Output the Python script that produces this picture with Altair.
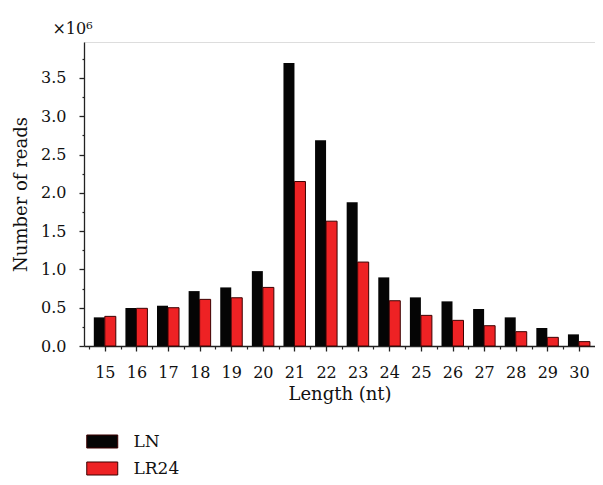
import altair as alt
import pandas as pd

# ---- data (reads in millions) ----
lengths = list(range(15, 31))
ln_reads = [0.374, 0.496, 0.526, 0.717, 0.765, 0.978, 3.696, 2.687,
            1.878, 0.896, 0.635, 0.583, 0.483, 0.374, 0.235, 0.152]
lr24_reads = [0.387, 0.492, 0.500, 0.609, 0.630, 0.765, 2.148, 1.630,
              1.096, 0.591, 0.400, 0.335, 0.265, 0.187, 0.113, 0.057]
series_names = ["LN", "LR24"]
series_colors = ["#050505", "#ee2224"]
x_ticks = lengths
x_minor = [l - 0.5 for l in lengths]
y_ticks = [0.0, 0.5, 1.0, 1.5, 2.0, 2.5, 3.0, 3.5]
y_minor = [0.25, 0.75, 1.25, 1.75, 2.25, 2.75, 3.25, 3.75]

df = pd.DataFrame({
    "length": lengths + lengths,
    "reads": ln_reads + lr24_reads,
    "series": [series_names[0]] * len(lengths) + [series_names[1]] * len(lengths),
})

FONT = "DejaVu Serif"
AX = "#222222"
TXT = "#111111"
xscale = alt.Scale(domain=[14.5, 30.35], nice=False, zero=False)
yscale = alt.Scale(domain=[0, 3.97], nice=False)

color = alt.Color(
    "series:N",
    scale=alt.Scale(domain=series_names, range=series_colors),
    legend=alt.Legend(
        title=None, orient="none", legendX=9.75, legendY=391,
        symbolType="M-2,-0.84H2V0.84H-2Z", symbolSize=240,
        symbolStrokeColor="#3c0000", symbolStrokeWidth=1, symbolOpacity=1,
        labelFont=FONT, labelFontSize=17, labelColor=TXT, labelOffset=22.75,
        rowPadding=8, padding=0,
    ),
)

x_main = alt.X("length:Q", scale=xscale, axis=alt.Axis(
    values=x_ticks, format="d", tickSize=5, tickColor=AX, domainColor=AX,
    domainWidth=1.3, tickWidth=1.3, labelFont=FONT, labelFontSize=16,
    labelColor=TXT, labelPadding=13, grid=False, title="Length (nt)",
    titleFont=FONT, titleFontSize=18, titleFontWeight="normal",
    titleColor=TXT, titlePadding=5, labelFlush=False))
y_main = alt.Y("reads:Q", scale=yscale, axis=alt.Axis(
    values=y_ticks, format=".1f", tickSize=5, tickColor=AX, domainColor=AX,
    domainWidth=1.3, tickWidth=1.3, labelFont=FONT, labelFontSize=16,
    labelColor=TXT, labelPadding=13, grid=False, title="Number of reads",
    titleFont=FONT, titleFontSize=18, titleFontWeight="normal",
    titleColor=TXT, titlePadding=10))

ln_bars = alt.Chart(df).transform_filter(alt.datum.series == "LN").mark_bar(
    width=11, xOffset=-5.5).encode(x=x_main, y=y_main, color=color)

# second layer carries the minor-tick axes (overlaid on the main ones)
lr_bars = alt.Chart(df).transform_filter(alt.datum.series == "LR24").mark_bar(
    width=11, xOffset=5.5, stroke="#3c0000", strokeWidth=1).encode(
    x=alt.X("length:Q", scale=xscale, axis=alt.Axis(
        values=x_minor, labels=False, tickSize=3, tickColor=AX, tickWidth=1.2,
        domain=False, grid=False, title=None, orient="bottom")),
    y=alt.Y("reads:Q", scale=yscale, axis=alt.Axis(
        values=y_minor, labels=False, tickSize=2, tickColor=AX, tickWidth=1.2,
        domain=False, grid=False, orient="left", title="×10⁶",
        titleAngle=0, titleFont=FONT, titleFontSize=16,
        titleFontWeight="normal", titleColor=TXT,
        titleX=-12, titleY=-9, titleAlign="center", titleBaseline="alphabetic")),
    color=color)

chart = alt.layer(ln_bars, lr_bars).resolve_axis(
    x="independent", y="independent"
).properties(
    width=511, height=304,
    padding={"left": 4, "top": 12, "right": 0, "bottom": 0},
).configure_view(stroke=None).configure(background="white")

chart.save("out.html", embed_options={"renderer": "svg", "actions": False})
